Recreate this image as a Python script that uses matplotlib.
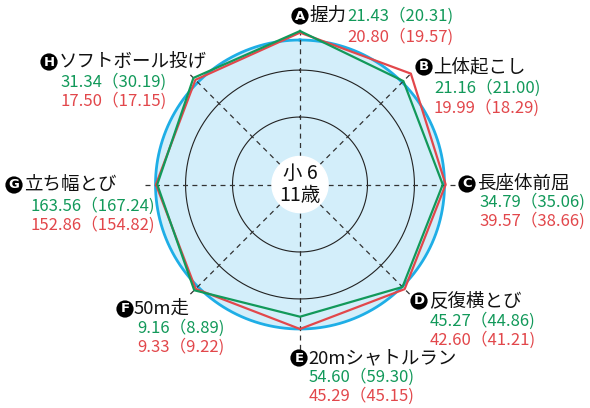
import numpy as np
import matplotlib
matplotlib.use("Agg")
import matplotlib.pyplot as plt

plt.rcParams['font.family'] = ['Noto Sans CJK JP', 'DejaVu Sans']

# データ（8種目）
letters = ["A", "B", "C", "D", "E", "F", "G", "H"]
names = ["握力", "上体起こし", "長座体前屈", "反復横とび",
         "20mシャトルラン", "50m走", "立ち幅とび", "ソフトボール投げ"]
green_vals = ["21.43", "21.16", "34.79", "45.27", "54.60", "9.16", "163.56", "31.34"]
green_avg = ["20.31", "21.00", "35.06", "44.86", "59.30", "8.89", "167.24", "30.19"]
red_vals = ["20.80", "19.99", "39.57", "42.60", "45.29", "9.33", "152.86", "17.50"]
red_avg = ["19.57", "18.29", "38.66", "41.21", "45.15", "9.22", "154.82", "17.15"]

# レーダーの半径（全国平均 = 100）
green_score = [106.2, 101.2, 98.8, 100.3, 91.5, 103.5, 98.8, 104.3]
red_score = [105.1, 108.5, 100.8, 102.4, 100.0, 102.1, 99.7, 102.4]
ring_levels = [46.7, 79.2]
avg_level = 100
center_level = 19.4
spoke_len = [109.5, 109.5, 109.5, 109.5, 114.5, 109.5, 109.5, 109.5]

GREEN = '#12995a'
RED = '#e2474b'
CYAN = '#1eaee6'
FILL = '#d3eefa'

W, H = 590, 408
fig = plt.figure(figsize=(W / 100, H / 100), dpi=100)

rmax = 120
cx, cy = 300, 184.5
rpx = rmax / 100 * 144.5
ax = fig.add_axes([(cx - rpx) / W, (H - cy - rpx) / H, 2 * rpx / W, 2 * rpx / H],
                  projection='polar')
ax.set_theta_zero_location('N')
ax.set_theta_direction(-1)
ax.set_ylim(0, rmax)
ax.axis('off')

n = len(letters)
theta = np.arange(n) * 2 * np.pi / n
tt = np.linspace(0, 2 * np.pi, 361)

# 背景の円
ax.fill(tt, np.full_like(tt, avg_level), color=FILL, zorder=1)
ax.plot(tt, np.full_like(tt, avg_level), color=CYAN, lw=2.0, zorder=2)
for lv in ring_levels:
    ax.plot(tt, np.full_like(tt, lv), color='#222222', lw=0.8, zorder=2)
for t, L in zip(theta, spoke_len):
    ax.plot([t, t], [0, L], color='#333333', lw=0.9, ls=(0, (4, 3.5)), zorder=3)
ax.fill(tt, np.full_like(tt, center_level), color='white', zorder=4)

# 折れ線
th_c = np.append(theta, theta[0])
ax.plot(th_c, np.append(red_score, red_score[0]), color=RED, lw=1.6, zorder=5)
ax.plot(th_c, np.append(green_score, green_score[0]), color=GREEN, lw=1.6, zorder=6)

ax.text(0, 0, "小 6\n11歳", ha='center', va='center', fontsize=14,
        linespacing=1.1, zorder=7, color='#111111')

# ラベル位置（ピクセル）: 丸文字, 名前, 緑の行, 赤の行
label_pos = {
    "A": ((300, 16), (309, 16), (347, 16), (347, 37)),
    "B": ((424, 67), (433, 67), (434, 88), (434, 108)),
    "C": ((467, 184), (477, 184), (479, 202), (479, 221)),
    "D": ((419, 301), (429, 301), (430, 321), (430, 340)),
    "E": ((299, 358), (308, 358), (309, 377), (309, 396)),
    "F": ((125, 309), (134, 309), (137, 328), (137, 347)),
    "G": ((14, 185), (24, 185), (30, 206), (30, 225)),
    "H": ((49, 62), (59, 62), (60, 82), (60, 101)),
}

def fx(x):
    return x / W

def fy(y):
    return 1 - y / H

fs_name = 13.3
fs_num = 12
for i, key in enumerate(letters):
    (c, nm, g, r) = label_pos[key]
    fig.text(fx(c[0]), fy(c[1]), key, color='white', fontsize=9.5, fontweight='bold',
             ha='center', va='center', family='DejaVu Sans',
             bbox=dict(boxstyle='circle,pad=0.16', fc='black', ec='none'))
    fig.text(fx(nm[0]), fy(nm[1]), names[i], fontsize=fs_name, ha='left', va='center',
             color='#111111')
    fig.text(fx(g[0]), fy(g[1]), f"{green_vals[i]}（{green_avg[i]})", fontsize=fs_num,
             ha='left', va='center', color=GREEN)
    fig.text(fx(r[0]), fy(r[1]), f"{red_vals[i]}（{red_avg[i]})", fontsize=fs_num,
             ha='left', va='center', color=RED)

fig.savefig("out.png", dpi=100)
